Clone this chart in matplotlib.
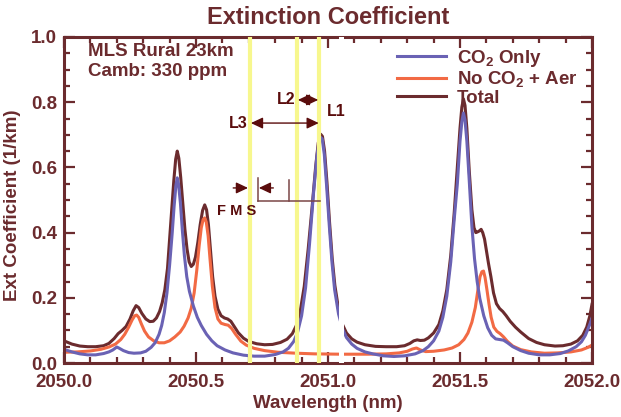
import matplotlib.pyplot as plt
from matplotlib.ticker import MultipleLocator, FormatStrFormatter

# ------------------------------
# DATA
# ------------------------------
total_wl = [2050.000, 2050.030, 2050.060, 2050.090, 2050.120, 2050.150, 2050.170, 2050.190,
            2050.205, 2050.220, 2050.235, 2050.250, 2050.262, 2050.273, 2050.283, 2050.295,
            2050.310, 2050.325, 2050.338, 2050.350, 2050.362, 2050.372, 2050.382, 2050.392,
            2050.400, 2050.408, 2050.416, 2050.423, 2050.429, 2050.435, 2050.442, 2050.450,
            2050.458, 2050.466, 2050.474, 2050.482, 2050.490, 2050.498, 2050.507, 2050.516,
            2050.525, 2050.533, 2050.540, 2050.547, 2050.555, 2050.563, 2050.572, 2050.583,
            2050.595, 2050.608, 2050.620, 2050.632, 2050.645, 2050.660, 2050.680, 2050.700,
            2050.730, 2050.760, 2050.790, 2050.820, 2050.845, 2050.865, 2050.880, 2050.895,
            2050.910, 2050.925, 2050.940, 2050.953, 2050.963, 2050.972, 2050.979, 2050.987,
            2050.996, 2051.006, 2051.016, 2051.026, 2051.040, 2051.055, 2051.070, 2051.090,
            2051.110, 2051.140, 2051.180, 2051.220, 2051.260, 2051.290, 2051.310, 2051.325,
            2051.338, 2051.350, 2051.365, 2051.380, 2051.400, 2051.420, 2051.435, 2051.450,
            2051.465, 2051.478, 2051.490, 2051.500, 2051.507, 2051.513, 2051.519, 2051.526,
            2051.535, 2051.545, 2051.553, 2051.560, 2051.566, 2051.573, 2051.580, 2051.586,
            2051.593, 2051.600, 2051.608, 2051.617, 2051.627, 2051.638, 2051.650, 2051.662,
            2051.675, 2051.690, 2051.710, 2051.730, 2051.760, 2051.790, 2051.820, 2051.860,
            2051.890, 2051.920, 2051.945, 2051.965, 2051.980, 2051.992, 2052.000]
total_ext = [0.068, 0.058, 0.052, 0.050, 0.050, 0.053, 0.060, 0.075,
             0.090, 0.100, 0.112, 0.135, 0.160, 0.176, 0.170, 0.152,
             0.135, 0.127, 0.128, 0.138, 0.158, 0.185, 0.225, 0.290,
             0.380, 0.470, 0.560, 0.625, 0.650, 0.628, 0.570, 0.490,
             0.410, 0.350, 0.310, 0.296, 0.303, 0.325, 0.370, 0.425,
             0.468, 0.485, 0.470, 0.425, 0.345, 0.265, 0.205, 0.165,
             0.145, 0.138, 0.135, 0.128, 0.112, 0.093, 0.076, 0.066,
             0.059, 0.056, 0.057, 0.063, 0.073, 0.090, 0.115, 0.160,
             0.235, 0.350, 0.480, 0.600, 0.675, 0.702, 0.695, 0.650,
             0.555, 0.430, 0.320, 0.238, 0.165, 0.118, 0.092, 0.074,
             0.064, 0.056, 0.051, 0.050, 0.050, 0.053, 0.060, 0.068,
             0.071, 0.069, 0.070, 0.077, 0.092, 0.118, 0.160, 0.225,
             0.330, 0.460, 0.600, 0.720, 0.785, 0.810, 0.790, 0.720,
             0.590, 0.470, 0.415, 0.400, 0.402, 0.405, 0.410, 0.400,
             0.380, 0.345, 0.305, 0.265, 0.215, 0.182, 0.167, 0.158,
             0.145, 0.128, 0.110, 0.095, 0.075, 0.063, 0.056, 0.052,
             0.053, 0.058, 0.068, 0.085, 0.110, 0.145, 0.180]

co2_wl = [2050.000, 2050.030, 2050.060, 2050.090, 2050.120, 2050.150, 2050.170, 2050.185,
          2050.200, 2050.210, 2050.225, 2050.245, 2050.265, 2050.290, 2050.310, 2050.330,
          2050.345, 2050.360, 2050.370, 2050.380, 2050.390, 2050.400, 2050.410, 2050.417,
          2050.424, 2050.429, 2050.434, 2050.441, 2050.448, 2050.456, 2050.465, 2050.475,
          2050.490, 2050.505, 2050.520, 2050.540, 2050.560, 2050.580, 2050.610, 2050.640,
          2050.680, 2050.720, 2050.760, 2050.800, 2050.830, 2050.850, 2050.870, 2050.885,
          2050.900, 2050.915, 2050.930, 2050.945, 2050.958, 2050.966, 2050.972, 2050.978,
          2050.986, 2050.995, 2051.005, 2051.015, 2051.025, 2051.040, 2051.055, 2051.070,
          2051.090, 2051.110, 2051.140, 2051.170, 2051.210, 2051.250, 2051.290, 2051.330,
          2051.360, 2051.380, 2051.400, 2051.420, 2051.435, 2051.450, 2051.465, 2051.478,
          2051.490, 2051.500, 2051.507, 2051.513, 2051.519, 2051.526, 2051.535, 2051.545,
          2051.555, 2051.565, 2051.575, 2051.590, 2051.605, 2051.620, 2051.635, 2051.650,
          2051.665, 2051.680, 2051.700, 2051.730, 2051.760, 2051.800, 2051.840, 2051.880,
          2051.910, 2051.940, 2051.960, 2051.975, 2051.990, 2052.000]
co2_ext = [0.042, 0.034, 0.028, 0.025, 0.025, 0.029, 0.034, 0.040,
           0.049, 0.045, 0.038, 0.032, 0.030, 0.031, 0.036, 0.048,
           0.062, 0.088, 0.115, 0.155, 0.215, 0.300, 0.400, 0.480,
           0.545, 0.568, 0.548, 0.490, 0.410, 0.330, 0.265, 0.220,
           0.175, 0.140, 0.115, 0.088, 0.068, 0.053, 0.040, 0.031,
           0.024, 0.021, 0.021, 0.026, 0.034, 0.045, 0.066, 0.095,
           0.145, 0.230, 0.365, 0.520, 0.635, 0.680, 0.692, 0.688,
           0.640, 0.540, 0.420, 0.310, 0.225, 0.150, 0.105, 0.078,
           0.058, 0.045, 0.034, 0.028, 0.022, 0.020, 0.022, 0.028,
           0.038, 0.050, 0.068, 0.098, 0.140, 0.205, 0.310, 0.440,
           0.550, 0.680, 0.740, 0.767, 0.745, 0.680, 0.560, 0.420,
           0.320, 0.250, 0.198, 0.145, 0.108, 0.085, 0.074, 0.072,
           0.070, 0.062, 0.050, 0.038, 0.030, 0.025, 0.025, 0.029,
           0.037, 0.050, 0.065, 0.085, 0.115, 0.138]

aer_wl = [2050.000, 2050.050, 2050.100, 2050.140, 2050.170, 2050.195, 2050.215, 2050.230,
          2050.245, 2050.258, 2050.268, 2050.275, 2050.283, 2050.293, 2050.305, 2050.320,
          2050.340, 2050.360, 2050.380, 2050.400, 2050.420, 2050.440, 2050.455, 2050.470,
          2050.482, 2050.493, 2050.503, 2050.512, 2050.520, 2050.527, 2050.533, 2050.539,
          2050.546, 2050.553, 2050.562, 2050.572, 2050.583, 2050.595, 2050.610, 2050.622,
          2050.635, 2050.650, 2050.670, 2050.690, 2050.720, 2050.760, 2050.810, 2050.880,
          2050.950, 2051.050, 2051.150, 2051.220, 2051.270, 2051.300, 2051.320, 2051.335,
          2051.350, 2051.370, 2051.400, 2051.440, 2051.470, 2051.495, 2051.515, 2051.530,
          2051.545, 2051.558, 2051.568, 2051.576, 2051.583, 2051.589, 2051.595, 2051.602,
          2051.610, 2051.618, 2051.628, 2051.640, 2051.652, 2051.665, 2051.680, 2051.700,
          2051.730, 2051.770, 2051.820, 2051.870, 2051.920, 2051.960, 2051.985, 2052.000]
aer_ext = [0.033, 0.034, 0.037, 0.042, 0.049, 0.058, 0.072, 0.088,
           0.110, 0.132, 0.145, 0.147, 0.140, 0.120, 0.098, 0.080,
           0.068, 0.062, 0.062, 0.068, 0.080, 0.095, 0.113, 0.138,
           0.168, 0.215, 0.285, 0.360, 0.415, 0.440, 0.445, 0.432,
           0.390, 0.320, 0.235, 0.170, 0.135, 0.122, 0.118, 0.116,
           0.106, 0.088, 0.067, 0.055, 0.045, 0.038, 0.033, 0.030,
           0.028, 0.027, 0.027, 0.028, 0.031, 0.036, 0.043, 0.046,
           0.040, 0.035, 0.036, 0.040, 0.046, 0.056, 0.072, 0.092,
           0.125, 0.170, 0.225, 0.265, 0.280, 0.282, 0.262, 0.225,
           0.180, 0.140, 0.110, 0.097, 0.090, 0.080, 0.066, 0.052,
           0.041, 0.034, 0.030, 0.031, 0.034, 0.040, 0.048, 0.055]

line_wl = [2050.705, 2050.881, 2050.967]   # L3, L2, L1

labels = [r'$\mathbf{CO_2}$ Only', r'No $\mathbf{CO_2}$ + Aer', 'Total']

# ------------------------------
# STYLE
# ------------------------------
maroon = '#6B2B2E'
dark = '#5A0C0C'
blue = '#6A62B4'
orange = '#F26A44'
yellow = '#F7F78E'

plt.rcParams['font.family'] = ['Liberation Sans', 'DejaVu Sans']
plt.rcParams['font.weight'] = 'bold'
plt.rcParams['mathtext.fontset'] = 'custom'
plt.rcParams['mathtext.rm'] = 'Liberation Sans:bold'
plt.rcParams['mathtext.bf'] = 'Liberation Sans:bold'

fig = plt.figure(figsize=(6.21, 4.17), dpi=100)
ax = fig.add_axes([64/621, 54/417, 528/621, 326/417])

ax.plot(co2_wl, co2_ext, color=blue, lw=2.2, label=labels[0], zorder=2.2)
ax.plot(aer_wl, aer_ext, color=orange, lw=2.2, label=labels[1], zorder=2.1)
ax.plot(total_wl, total_ext, color=maroon, lw=2.2, label=labels[2], zorder=2.0)

# yellow line positions
for w in line_wl:
    ax.axvline(w, color=yellow, lw=3, zorder=3)

# white break in the original scan
ax.axvspan(2051.043, 2051.061, color='white', lw=0, zorder=2.7)

ax.set_xlim(2050, 2052)
ax.set_ylim(0, 1.0)
ax.xaxis.set_major_locator(MultipleLocator(0.5))
ax.xaxis.set_minor_locator(MultipleLocator(0.1))
ax.yaxis.set_major_locator(MultipleLocator(0.2))
ax.yaxis.set_minor_locator(MultipleLocator(0.05))
ax.xaxis.set_major_formatter(FormatStrFormatter('%.1f'))
ax.yaxis.set_major_formatter(FormatStrFormatter('%.1f'))
ax.tick_params(which='both', direction='in', top=True, right=True, color=maroon,
               labelcolor=maroon, labelsize=13.5, width=1.6)
ax.tick_params(which='major', length=8)
ax.tick_params(which='minor', length=4.5)
ax.tick_params(axis='x', pad=8)
ax.tick_params(axis='y', pad=5)
for s in ax.spines.values():
    s.set_color(maroon)
    s.set_linewidth(2.2)

fig.text(328/621, 1 - 18/417, 'Extinction Coefficient', ha='center', va='center',
         fontsize=17, fontweight='bold', color=maroon)
fig.text(328/621, 1 - 403/417, 'Wavelength (nm)', ha='center', va='center',
         fontsize=13.5, fontweight='bold', color=maroon)
fig.text(13/621, 1 - 205/417, 'Ext Coefficient (1/km)', ha='center', va='center',
         rotation=90, fontsize=13.5, fontweight='bold', color=maroon)

ax.text(0.045, 0.954, 'MLS Rural 23km', transform=ax.transAxes, ha='left', va='center',
        fontsize=13.5, color=maroon)
ax.text(0.045, 0.893, 'Camb: 330 ppm', transform=ax.transAxes, ha='left', va='center',
        fontsize=13.5, color=maroon)

leg = ax.legend(loc='upper left', bbox_to_anchor=(0.631, 0.967), frameon=False,
                handlelength=2.6, handletextpad=0.6, labelspacing=0.03,
                borderpad=0, borderaxespad=0, prop={'size': 13.5, 'weight': 'bold'})
for t in leg.get_texts():
    t.set_color(maroon)

# ------------------------------
# L1 / L2 / L3 ARROWS
# ------------------------------
head = 'head_length=0.55,head_width=0.26'
ax.annotate('', xy=(line_wl[2] - 0.002, 0.736), xytext=(line_wl[0] + 0.003, 0.736),
            arrowprops=dict(arrowstyle='<|-|>,' + head, color=dark, lw=1.0,
                            shrinkA=0, shrinkB=0, mutation_scale=13), zorder=4)
ax.annotate('', xy=(line_wl[2] - 0.004, 0.807), xytext=(line_wl[1] + 0.005, 0.807),
            arrowprops=dict(arrowstyle='<|-|>,' + head, color=dark, lw=1.0,
                            shrinkA=0, shrinkB=0, mutation_scale=13), zorder=4)
ax.text(2050.694, 0.736, 'L3', ha='right', va='center', fontsize=11.5, color=dark)
ax.text(2050.876, 0.807, 'L2', ha='right', va='center', fontsize=11.5, color=dark)
ax.text(2050.996, 0.770, 'L1', ha='left', va='center', fontsize=11.5, color=dark)

# FMS marker
ax.annotate('', xy=(2050.697, 0.537), xytext=(2050.641, 0.537),
            arrowprops=dict(arrowstyle='-|>,' + head, color=dark, lw=1.0,
                            shrinkA=0, shrinkB=0, mutation_scale=13), zorder=4)
ax.annotate('', xy=(2050.738, 0.537), xytext=(2050.793, 0.537),
            arrowprops=dict(arrowstyle='-|>,' + head, color=dark, lw=1.0,
                            shrinkA=0, shrinkB=0, mutation_scale=13), zorder=4)
ax.plot([2050.736, 2050.736], [0.498, 0.567], color='#7A4646', lw=1.1, zorder=4)
ax.plot([2050.854, 2050.854], [0.498, 0.561], color='#7A4646', lw=1.1, zorder=4)
ax.plot([2050.736, 2050.970], [0.498, 0.498], color='#7A4646', lw=1.1, zorder=4)
ax.text(2050.655, 0.467, 'F M S', ha='center', va='center', fontsize=10.5, color=dark)

plt.savefig('out.png', dpi=100)
